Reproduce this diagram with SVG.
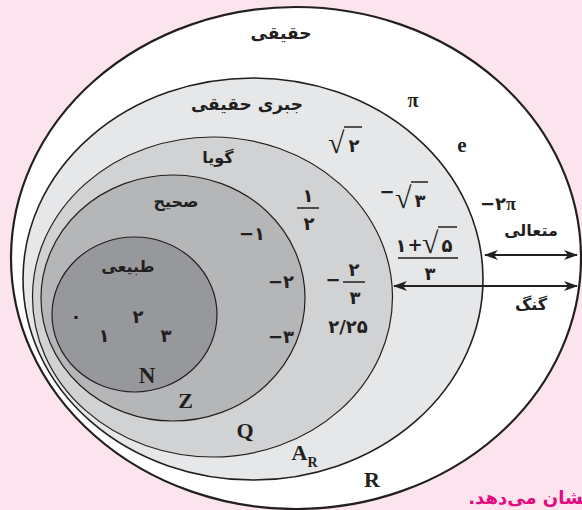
<svg xmlns="http://www.w3.org/2000/svg" width="582" height="510" viewBox="0 0 582 510">
<style>
.set{stroke:#231f20}
.ar{font-family:"DejaVu Sans",sans-serif;font-weight:bold;fill:#231f20;text-anchor:middle}
.num{font-family:"DejaVu Sans",sans-serif;font-weight:bold;fill:#231f20;text-anchor:middle;font-size:18px}
.lat{font-family:"Liberation Serif",serif;font-weight:bold;fill:#231f20;text-anchor:middle}
.rad{font-family:"Liberation Serif",serif;fill:#231f20}
.bar{stroke:#231f20;stroke-width:1.5}
.arrow{stroke:#231f20;stroke-width:2;fill:none}
</style>
<defs>
<marker id="ah" viewBox="0 0 14 10" refX="13" refY="5" markerWidth="14" markerHeight="10" markerUnits="userSpaceOnUse" orient="auto-start-reverse">
<path d="M0,0 L14,5 L0,10 L4,5 z" fill="#231f20"/>
</marker>
</defs>
<rect width="582" height="510" fill="#fce4ee"/>
<g id="R">
<ellipse class="set" cx="296" cy="258" rx="285" ry="251" fill="#ffffff" stroke-width="2.2"/>
<text class="ar" x="281" y="39" font-size="17">حقیقی</text>
<text class="lat" x="413" y="107" font-size="20">π</text>
<text class="lat" x="462" y="152" font-size="21">e</text>
<text class="num" x="498" y="210" direction="ltr">−۲<tspan font-family="Liberation Serif">π</tspan></text>
<text class="lat" x="372" y="487" font-size="22">R</text>
</g>
<g id="AR">
<ellipse class="set" cx="253" cy="279" rx="230" ry="201" fill="#e6e7e8" stroke-width="1.6"/>
<text class="ar" x="247" y="110" font-size="17">جبری حقیقی</text>
<text class="rad" x="328" y="153" font-size="30">√</text>
<line class="bar" x1="344" y1="127" x2="362" y2="127"/>
<text class="num" x="354" y="152">۲</text>
<text class="num" x="387" y="198" font-size="14">−</text>
<text class="rad" x="395" y="208" font-size="30">√</text>
<line class="bar" x1="411" y1="182" x2="428" y2="182"/>
<text class="num" x="420" y="207">۳</text>
<text class="num" x="401" y="252">۱</text>
<text class="num" x="415" y="251" font-size="15">+</text>
<text class="rad" x="422" y="253" font-size="30">√</text>
<line class="bar" x1="438" y1="227" x2="457" y2="227"/>
<text class="num" x="447" y="252">۵</text>
<line class="bar" x1="398" y1="258" x2="458" y2="258"/>
<text class="num" x="430" y="280">۳</text>
<text class="lat" x="304.5" y="460" font-size="22">A<tspan font-size="14" dy="7">R</tspan></text>
</g>
<g id="Q">
<ellipse class="set" cx="212.5" cy="297" rx="180" ry="160" fill="#d1d2d4" stroke-width="1.2"/>
<text class="ar" x="218" y="163" font-size="16">گویا</text>
<text class="num" x="308" y="202">۱</text>
<line class="bar" x1="297" y1="208" x2="319" y2="208"/>
<text class="num" x="309" y="230">۲</text>
<text class="num" x="333" y="286" font-size="14">−</text>
<text class="num" x="354" y="276">۲</text>
<line class="bar" x1="343" y1="282" x2="365" y2="282"/>
<text class="num" x="355" y="304">۳</text>
<text class="num" x="348" y="333" direction="ltr">۲/۲۵</text>
<text class="lat" x="245" y="438" font-size="22">Q</text>
</g>
<g id="Z">
<ellipse class="set" cx="173" cy="298" rx="132" ry="123" fill="#b5b6b8" stroke-width="1.2"/>
<text class="ar" x="176" y="207" font-size="16">صحیح</text>
<text class="num" x="252" y="240" direction="ltr">−۱</text>
<text class="num" x="281" y="288" direction="ltr">−۲</text>
<text class="num" x="281" y="343" direction="ltr">−۳</text>
<text class="lat" x="185.5" y="408" font-size="22">Z</text>
</g>
<g id="N">
<ellipse class="set" cx="134.5" cy="314.5" rx="82.5" ry="77.5" fill="#97989b" stroke-width="1.2"/>
<text class="ar" x="128" y="272" font-size="16">طبیعی</text>
<text class="num" x="76" y="323">۰</text>
<text class="num" x="138" y="323">۲</text>
<text class="num" x="104" y="342">۱</text>
<text class="num" x="166" y="342">۳</text>
<text class="lat" x="147" y="383" font-size="23">N</text>
</g>
<g id="connectors">
<line class="arrow" x1="485" y1="255" x2="577" y2="255" marker-start="url(#ah)" marker-end="url(#ah)"/>
<line class="arrow" x1="394" y1="286" x2="577" y2="286" marker-start="url(#ah)" marker-end="url(#ah)"/>
</g>
<g id="labels">
<text class="ar" x="531" y="236" font-size="16">متعالی</text>
<text class="ar" x="531" y="310" font-size="16">گنگ</text>
</g>
<text x="590" y="504" font-family="DejaVu Sans,sans-serif" font-weight="bold" font-size="18" fill="#e5097f" text-anchor="start" direction="rtl">نشان می‌دهد.</text>
</svg>
